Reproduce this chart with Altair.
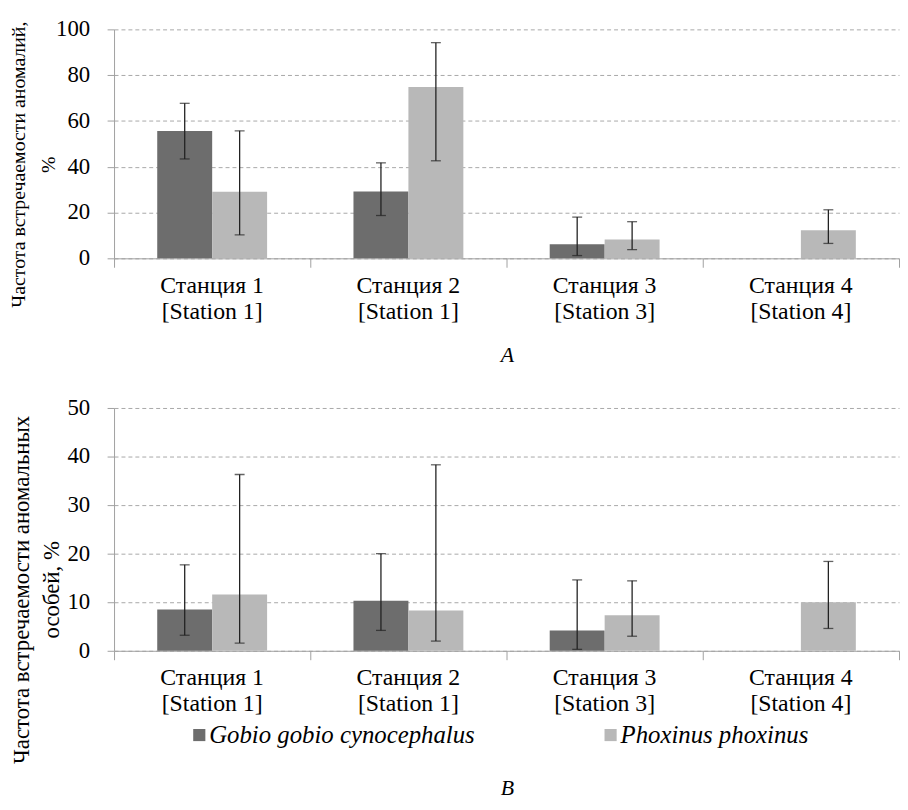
import altair as alt
import pandas as pd

stations = ["Станция 1|[Station 1]", "Станция 2|[Station 1]", "Станция 3|[Station 3]", "Станция 4|[Station 4]"]
species = ["Gobio gobio cynocephalus", "Phoxinus phoxinus"]

# Panel A
a_ticks = [0, 20, 40, 60, 80, 100]
gobio_a = [55.6, 29.2, 6.2, None]
gobio_a_lo = [43.4, 18.7, 1.2, None]
gobio_a_hi = [67.7, 41.7, 18.0, None]
phox_a = [29.1, 74.8, 8.2, 12.3]
phox_a_lo = [10.2, 42.6, 3.8, 6.5]
phox_a_hi = [55.7, 94.2, 16.0, 21.2]

# Panel B
b_ticks = [0, 10, 20, 30, 40, 50]
gobio_b = [8.5, 10.3, 4.2, None]
gobio_b_lo = [3.2, 4.2, 0.3, None]
gobio_b_hi = [17.7, 20.0, 14.6, None]
phox_b = [11.6, 8.3, 7.3, 10.0]
phox_b_lo = [1.6, 2.0, 3.0, 4.6]
phox_b_hi = [36.3, 38.3, 14.4, 18.4]

colors = ["#6d6d6d", "#b8b8b8"]
FONT = "Liberation Serif"
W = 792


def make_df(g, glo, ghi, p, plo, phi):
    rows = []
    for i, s in enumerate(stations):
        for sp, v, lo, hi in [(species[0], g[i], glo[i], ghi[i]), (species[1], p[i], plo[i], phi[i])]:
            if v is None:
                continue
            rows.append({"station": s, "species": sp, "value": v, "lo": lo, "hi": hi})
    return pd.DataFrame(rows)


def panel(df, ticks, ytitle, tsize, ty, tx, ptitle, show_legend, h):
    ymax = ticks[-1]
    x = alt.X("station:N", sort=stations, title=None,
              scale=alt.Scale(paddingInner=0, paddingOuter=0),
              axis=alt.Axis(labels=False, tickBand="extent", tickSize=9, tickColor="#a0a0a0",
                            domainColor="#a0a0a0", grid=False))
    xo = alt.XOffset("species:N", sort=species, scale=alt.Scale(paddingInner=0, paddingOuter=0.786))
    color = alt.Color("species:N", sort=species,
                      scale=alt.Scale(domain=species, range=colors), legend=None)
    yaxis = alt.Axis(values=ticks, labels=False,
                     tickSize=7, tickColor="#a0a0a0", domainColor="#a0a0a0",
                     gridColor="#a8a8a8", gridDash=[4, 3], gridWidth=1,
                     titleFont=FONT, titleFontSize=tsize, titleFontWeight="normal",
                     titleColor="#000", titleLineHeight=30,
                     titleX=tx, titleY=ty)
    y = alt.Y("value:Q", title=ytitle, scale=alt.Scale(domain=[0, ymax], nice=False), axis=yaxis)
    base = alt.Chart(df)
    bars = base.mark_bar().encode(x=x, xOffset=xo, y=y, color=color)
    xs = alt.X("station:N", sort=stations)
    rule = base.mark_rule(color="#222", strokeWidth=1.3).encode(
        x=xs, xOffset=xo, y=alt.Y("lo:Q"), y2="hi:Q")
    cap_hi = base.mark_tick(color="#222", size=10, thickness=1.3).encode(
        x=xs, xOffset=xo, y=alt.Y("hi:Q"))
    cap_lo = base.mark_tick(color="#222", size=10, thickness=1.3).encode(
        x=xs, xOffset=xo, y=alt.Y("lo:Q"))

    ylab = alt.Chart(pd.DataFrame({"tick": ticks})).mark_text(
        font=FONT, fontSize=23, align="right", baseline="middle", color="#000"
    ).encode(x=alt.value(-24), y=alt.Y("tick:Q"), text=alt.Text("tick:Q"))
    xlab = alt.Chart(pd.DataFrame({"station": stations})).mark_text(
        font=FONT, fontSize=24, align="center", baseline="top", lineBreak="|",
        lineHeight=26, color="#000"
    ).encode(x=xs, y=alt.value(h + 16), text=alt.Text("station:N"))
    ptext = alt.Chart(pd.DataFrame({"t": [ptitle]})).mark_text(
        font=FONT, fontSize=22, fontStyle="italic", align="center", baseline="middle",
        color="#000"
    ).encode(x=alt.value(W / 2 + 1), y=alt.value(h + (138 if show_legend else 98)), text="t:N")
    layers = [bars, rule, cap_hi, cap_lo, ylab, xlab, ptext]
    if show_legend:
        for i, (sx, tx0) in enumerate([(86, 96), (501, 511)]):
            d = pd.DataFrame({"species": [species[i]]})
            layers.append(alt.Chart(d).mark_square(size=150, color=colors[i], opacity=1).encode(
                x=alt.value(sx), y=alt.value(h + 85)))
            layers.append(alt.Chart(d).mark_text(
                font=FONT, fontSize=25, fontStyle="italic", align="left", baseline="middle",
                color="#000").encode(x=alt.value(tx0), y=alt.value(h + 85), text="species:N"))
    return alt.layer(*layers).properties(
        width=W, height=h, view=alt.ViewBackground(stroke="transparent"))


dfa = make_df(gobio_a, gobio_a_lo, gobio_a_hi, phox_a, phox_a_lo, phox_a_hi)
dfb = make_df(gobio_b, gobio_b_lo, gobio_b_hi, phox_b, phox_b_lo, phox_b_hi)

pa = panel(dfa, a_ticks, ["Частота встречаемости аномалий,", "%"], 20, 136, -86, "A", False, 231)
pb = panel(dfb, b_ticks, ["Частота встречаемости аномальных", "особей, %"], 23, 183, -81, "B", True, 245)

chart = alt.vconcat(pa, pb, spacing=29).properties(
    padding={"top": 6, "left": 0, "right": 0, "bottom": 0}
)

chart.save("out.html", embed_options={"renderer": "svg", "actions": False})
